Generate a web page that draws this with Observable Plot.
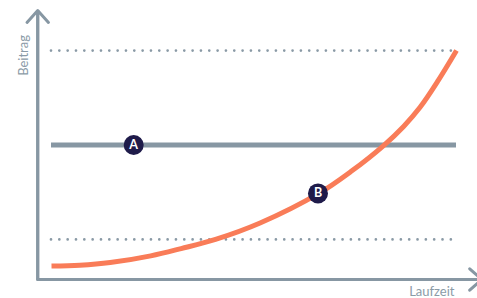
<!DOCTYPE html>
<html><head><meta charset="utf-8">
<script src="https://cdn.jsdelivr.net/npm/d3@7"></script>
<script src="https://cdn.jsdelivr.net/npm/@observablehq/plot@0.6"></script>
<style>body{margin:0;background:#fff}</style>
</head><body><div id="chart"></div>
<script>
// Curve B (Laufzeit vs Beitrag)
const curveX = [0, 0.7, 1.45, 2.45, 3.2, 4.05, 5.15, 6.6, 7.4, 8.2, 8.7, 9.1, 9.55, 10];
const curveY = [0.5, 0.53, 0.63, 0.88, 1.15, 1.49, 2.1, 3.2, 4.02, 4.98, 5.70, 6.40, 7.40, 8.51];
// Constant line A
const levelA = 5.0;
// Dotted reference levels
const refLevels = [8.51, 1.49];
// Marker labels
const markerLabels = ["A", "B"];
const markerX = [2.03, 6.58];
const markerY = [5.0, 3.2];
// Axis titles
const xTitle = "Laufzeit";
const yTitle = "Beitrag";
// Axis extents (data units)
const axisXStart = -0.34, axisXEnd = 10.62, axisYEnd = 10;

const curve = curveX.map((x, i) => ({x, y: curveY[i]}));
const markers = markerLabels.map((label, i) => ({label, x: markerX[i], y: markerY[i]}));
const axisPath = [{x: axisXStart, y: axisYEnd}, {x: axisXStart, y: 0}, {x: axisXEnd, y: 0}];

const gray = "#8797a3";
const orange = "#f97c58";
const navy = "#1f1b4a";
const textGray = "#8b9ba7";

const chart = Plot.plot({
  width: 477,
  height: 298,
  marginLeft: 51,
  marginRight: 21,
  marginTop: 10,
  marginBottom: 19,
  x: {domain: [0, 10], axis: null},
  y: {domain: [0, 10], axis: null},
  style: {background: "#fff", overflow: "visible", fontFamily: "Lato, sans-serif"},
  marks: [
    Plot.ruleY(refLevels, {x1: 0, x2: 10, stroke: "#8a9aa6", strokeWidth: 2.7, strokeDasharray: "0 8.33", strokeLinecap: "round"}),
    Plot.ruleY([levelA], {x1: 0, x2: 10, stroke: gray, strokeWidth: 5}),
    Plot.line(curve, {x: "x", y: "y", stroke: orange, strokeWidth: 5, curve: "catmull-rom", strokeLinecap: "butt"}),
    Plot.line(axisPath, {x: "x", y: "y", stroke: gray, strokeWidth: 3, strokeLinejoin: "miter", strokeLinecap: "butt"}),
    Plot.arrow([{x1: axisXStart, y1: 0, x2: axisXStart, y2: axisYEnd}], {x1: "x1", y1: "y1", x2: "x2", y2: "y2", stroke: gray, strokeWidth: 3, headLength: 8, headAngle: 84}),
    Plot.arrow([{x1: axisXStart, y1: 0, x2: axisXEnd, y2: 0}], {x1: "x1", y1: "y1", x2: "x2", y2: "y2", stroke: gray, strokeWidth: 3, headLength: 8, headAngle: 84}),
    Plot.dot(markers, {x: "x", y: "y", r: 10, fill: navy, stroke: "none"}),
    Plot.text(markers, {x: "x", y: "y", text: "label", fill: "white", fontSize: 12.5, fontWeight: "bold"}),
    Plot.text([xTitle], {x: 9.95, y: 0, text: d => d, textAnchor: "end", lineAnchor: "middle", dy: 12, fill: textGray, fontSize: 13}),
    Plot.text([yTitle], {x: axisXStart, y: 8.33, text: d => d, rotate: -90, dx: -14, fill: textGray, fontSize: 13})
  ]
});
document.getElementById("chart").appendChild(chart);
</script>
</body></html>
